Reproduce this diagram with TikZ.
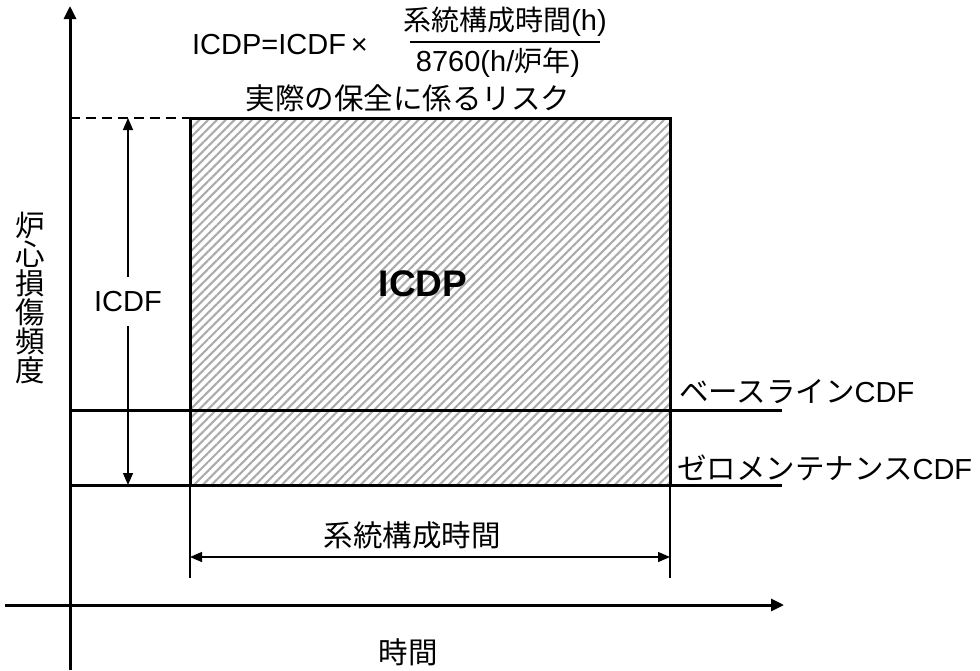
\documentclass[tikz,border=0pt]{standalone}
\usepackage{fontspec}
\setmainfont{Liberation Sans}
\newfontfamily\jp{Noto Sans CJK JP}
\usetikzlibrary{arrows.meta,patterns.meta}
\tikzset{
  lab/.style={inner sep=0pt, font=\fontsize{29}{31}\selectfont},
  jlab/.style={inner sep=0pt, font=\fontsize{29.5}{29}\selectfont\jp},
  axis/.style={line width=3pt, -{Triangle[length=13pt,width=12pt]}},
  heavy/.style={line width=3pt},
  thinl/.style={line width=1.3pt},
  dim/.style={line width=1.3pt, {Triangle[length=12pt,width=10pt]}-{Triangle[length=12pt,width=10pt]}},
}
\begin{document}
\begin{tikzpicture}[x=1pt,y=-1pt]
\useasboundingbox (0,0) rectangle (980,670);
% hatched area
\coordinate (r1) at (190,118);
\coordinate (r2) at (670,485);
\fill[pattern={Lines[angle=45,distance=6.2pt,line width=2.1pt]}, pattern color=black!33] (r1) rectangle (r2);
% axes
\coordinate (yb) at (70,670);
\coordinate (yt) at (70,6);
\coordinate (xl) at (5,605);
\coordinate (xr) at (784,605);
\draw[axis] (yb) -- (yt);
\draw[axis] (xl) -- (xr);
% CDF lines
\coordinate (b1) at (70,410);
\coordinate (b2) at (782,410);
\coordinate (z1) at (70,485);
\coordinate (z2) at (782,485);
\draw[heavy] (b1) -- (b2);
\draw[heavy] (z1) -- (z2);
\draw[heavy] (r1) rectangle (r2);
% dashed
\coordinate (d1) at (70,118);
\draw[line width=2.2pt, dash pattern=on 10pt off 6pt] (d1) -- (r1);
% ICDF arrow
\coordinate (i1) at (128,118);
\coordinate (i2) at (128,485);
\draw[dim] (i1) -- node[lab, fill=white, inner xsep=2pt, inner ysep=14pt] (icdf) {ICDF} (i2);
% extension lines and dimension
\coordinate (e1) at (190,578);
\coordinate (e2) at (670,578);
\coordinate (e1t) at (190,485);
\coordinate (e2t) at (670,485);
\draw[thinl] (e1t) -- (e1);
\draw[thinl] (e2t) -- (e2);
\coordinate (m1) at (190,557);
\coordinate (m2) at (670,557);
\draw[dim] (m1) -- (m2);
\node[jlab] (sys) at (412,535) {系統構成時間};
% labels
\node[jlab] (time) at (408,652) {時間};
\node[jlab, align=center] (ylab) at (30,298) {炉\\心\\損\\傷\\頻\\度};
\node[inner sep=0pt, font=\fontsize{37}{40}\selectfont\bfseries] (icdp) at (423,284) {ICDP};
\node[jlab, anchor=west] (base) at (679,392) {ベースライン{\fontsize{29}{31}\selectfont\rmfamily CDF}};
\node[jlab, anchor=west] (zero) at (677,468) {ゼロメンテナンス{\fontsize{29}{31}\selectfont\rmfamily CDF}};
\node[jlab] (risk) at (408,98) {実際の保全に係るリスク};
% formula
\node[lab, anchor=east] (f1) at (368,45) {ICDP=ICDF\,×};
\node[lab] (num) at (505,22) {{\jp\fontsize{28}{29}\selectfont 系統構成時間}(h)};
\node[lab] (den) at (498,63) {8760(h/{\jp\fontsize{28}{29}\selectfont 炉年})};
\coordinate (fb1) at (410,42);
\coordinate (fb2) at (600,42);
\draw[line width=2pt] (fb1) -- (fb2);
\end{tikzpicture}
\end{document}
